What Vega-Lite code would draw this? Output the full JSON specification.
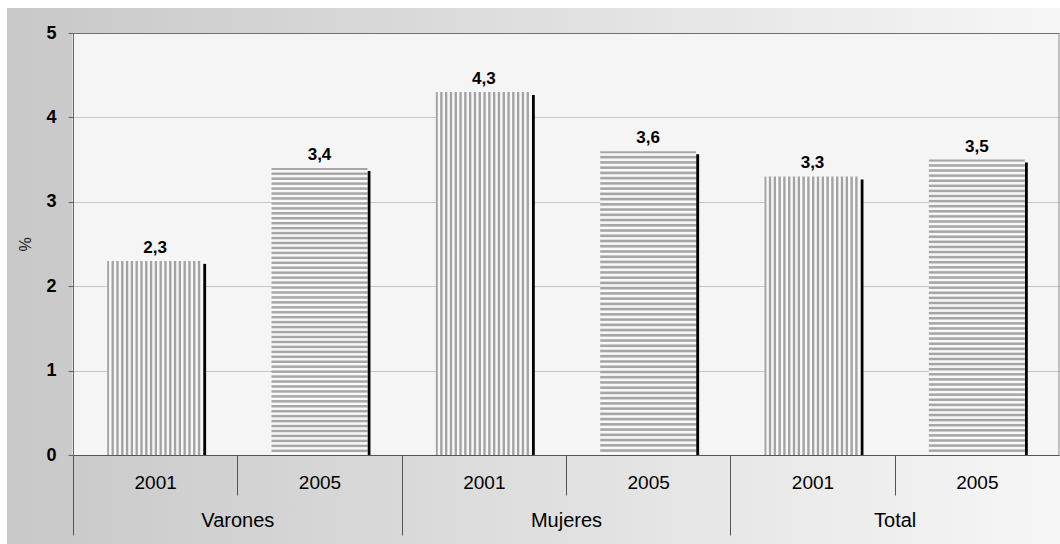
{
  "$schema": "https://vega.github.io/schema/vega-lite/v6.json",
  "width": 1053,
  "height": 536,
  "autosize": "none",
  "padding": {"left": 7, "top": 8, "right": 0, "bottom": 0},
  "background": "#ffffff",
  "view": {
    "stroke": null,
    "fill": {"gradient": "linear", "x1": 0, "y1": 0, "x2": 1, "y2": 0, "stops": [{"offset": 0, "color": "#c8c8c8"}, {"offset": 1, "color": "#f6f6f6"}]}
  },
  "config": {
    "locale": {"number": {"decimal": ",", "thousands": ".", "grouping": [3], "currency": ["", " €"]}}
  },
  "data": {
    "values": [
      {"grupo": "Varones", "anio": "2001", "key": "Varones 2001", "valor": 2.3},
      {"grupo": "Varones", "anio": "2005", "key": "Varones 2005", "valor": 3.4},
      {"grupo": "Mujeres", "anio": "2001", "key": "Mujeres 2001", "valor": 4.3},
      {"grupo": "Mujeres", "anio": "2005", "key": "Mujeres 2005", "valor": 3.6},
      {"grupo": "Total", "anio": "2001", "key": "Total 2001", "valor": 3.3},
      {"grupo": "Total", "anio": "2005", "key": "Total 2005", "valor": 3.5}
    ]
  },
  "encoding": {
    "x": {
      "field": "key", "type": "nominal", "sort": null,
      "scale": {"domain": ["Varones 2001", "Varones 2005", "Mujeres 2001", "Mujeres 2005", "Total 2001", "Total 2005"], "range": [66, 1052], "paddingInner": 0, "paddingOuter": 0},
      "axis": null
    },
    "y": {
      "field": "valor", "type": "quantitative",
      "scale": {"domain": [0, 5], "range": [447, 25], "nice": false, "zero": true},
      "axis": {
        "orient": "left", "offset": -66, "values": [0, 1, 2, 3, 4, 5],
        "domain": true, "domainColor": "#666666", "domainWidth": 1,
        "ticks": true, "tickSize": 5, "tickColor": "#666666", "tickWidth": 1,
        "labelFont": "Liberation Sans", "labelFontSize": 18, "labelFontWeight": "bold", "labelColor": "#000000", "labelPadding": 12,
        "grid": true, "gridWidth": 1,
        "gridColor": {"condition": {"test": "datum.value === 5", "value": "#707070"}, "value": "#c4c4c4"},
        "title": "%", "titleFont": "Liberation Sans", "titleFontSize": 16, "titleFontWeight": "normal", "titleColor": "#222222",
        "titleX": -48, "titleBaseline": "middle",
        "zindex": 0
      }
    }
  },
  "resolve": {"axis": {"x": "independent"}},
  "layer": [
    {
      "mark": {"type": "text", "font": "Liberation Sans", "fontSize": 17, "fontWeight": "bold", "baseline": "alphabetic", "dy": -8, "color": "#000000"},
      "encoding": {
        "x": {
          "field": "key", "type": "nominal", "sort": null,
          "scale": {"domain": ["Varones 2001", "Varones 2005", "Mujeres 2001", "Mujeres 2005", "Total 2001", "Total 2005"], "range": [66, 1052], "paddingInner": 0, "paddingOuter": 0},
          "axis": {"orient": "top", "offset": 0, "domain": false, "ticks": false, "labels": false, "title": null, "grid": true, "gridColor": "#f5f5f5", "gridWidth": 166, "gridOpacity": 1, "bandPosition": 0.5, "zindex": 0}
        },
        "text": {"field": "valor", "type": "quantitative", "format": ".1f"}
      }
    },
    {
      "mark": {"type": "rule", "color": "#000000", "strokeWidth": 3, "yOffset": 3},
      "encoding": {
        "x": {
          "field": "key", "type": "nominal", "sort": null, "bandPosition": 0.801,
          "scale": {"domain": ["Varones 2001", "Varones 2005", "Mujeres 2001", "Mujeres 2005", "Total 2001", "Total 2005"], "range": [66, 1052], "paddingInner": 0, "paddingOuter": 0},
          "axis": null
        },
        "y2": {"datum": 0}
      }
    },
    {
      "transform": [{"filter": "datum.anio === '2001'"}],
      "mark": {
        "type": "bar", "width": {"band": 0.584}, "stroke": null,
        "fill": {"gradient": "linear", "x1": 0, "y1": 0, "x2": 1, "y2": 0, "stops": [
          {"offset": 0, "color": "#a3a3a3"}, {"offset": 0.015, "color": "#a3a3a3"}, {"offset": 0.025, "color": "#f8f8f8"}, {"offset": 0.04, "color": "#f8f8f8"},
          {"offset": 0.05, "color": "#a3a3a3"}, {"offset": 0.065, "color": "#a3a3a3"}, {"offset": 0.075, "color": "#f8f8f8"}, {"offset": 0.09, "color": "#f8f8f8"},
          {"offset": 0.1, "color": "#a3a3a3"}, {"offset": 0.115, "color": "#a3a3a3"}, {"offset": 0.125, "color": "#f8f8f8"}, {"offset": 0.14, "color": "#f8f8f8"},
          {"offset": 0.15, "color": "#a3a3a3"}, {"offset": 0.165, "color": "#a3a3a3"}, {"offset": 0.175, "color": "#f8f8f8"}, {"offset": 0.19, "color": "#f8f8f8"},
          {"offset": 0.2, "color": "#a3a3a3"}, {"offset": 0.215, "color": "#a3a3a3"}, {"offset": 0.225, "color": "#f8f8f8"}, {"offset": 0.24, "color": "#f8f8f8"},
          {"offset": 0.25, "color": "#a3a3a3"}, {"offset": 0.265, "color": "#a3a3a3"}, {"offset": 0.275, "color": "#f8f8f8"}, {"offset": 0.29, "color": "#f8f8f8"},
          {"offset": 0.3, "color": "#a3a3a3"}, {"offset": 0.315, "color": "#a3a3a3"}, {"offset": 0.325, "color": "#f8f8f8"}, {"offset": 0.34, "color": "#f8f8f8"},
          {"offset": 0.35, "color": "#a3a3a3"}, {"offset": 0.365, "color": "#a3a3a3"}, {"offset": 0.375, "color": "#f8f8f8"}, {"offset": 0.39, "color": "#f8f8f8"},
          {"offset": 0.4, "color": "#a3a3a3"}, {"offset": 0.415, "color": "#a3a3a3"}, {"offset": 0.425, "color": "#f8f8f8"}, {"offset": 0.44, "color": "#f8f8f8"},
          {"offset": 0.45, "color": "#a3a3a3"}, {"offset": 0.465, "color": "#a3a3a3"}, {"offset": 0.475, "color": "#f8f8f8"}, {"offset": 0.49, "color": "#f8f8f8"},
          {"offset": 0.5, "color": "#a3a3a3"}, {"offset": 0.515, "color": "#a3a3a3"}, {"offset": 0.525, "color": "#f8f8f8"}, {"offset": 0.54, "color": "#f8f8f8"},
          {"offset": 0.55, "color": "#a3a3a3"}, {"offset": 0.565, "color": "#a3a3a3"}, {"offset": 0.575, "color": "#f8f8f8"}, {"offset": 0.59, "color": "#f8f8f8"},
          {"offset": 0.6, "color": "#a3a3a3"}, {"offset": 0.615, "color": "#a3a3a3"}, {"offset": 0.625, "color": "#f8f8f8"}, {"offset": 0.64, "color": "#f8f8f8"},
          {"offset": 0.65, "color": "#a3a3a3"}, {"offset": 0.665, "color": "#a3a3a3"}, {"offset": 0.675, "color": "#f8f8f8"}, {"offset": 0.69, "color": "#f8f8f8"},
          {"offset": 0.7, "color": "#a3a3a3"}, {"offset": 0.715, "color": "#a3a3a3"}, {"offset": 0.725, "color": "#f8f8f8"}, {"offset": 0.74, "color": "#f8f8f8"},
          {"offset": 0.75, "color": "#a3a3a3"}, {"offset": 0.765, "color": "#a3a3a3"}, {"offset": 0.775, "color": "#f8f8f8"}, {"offset": 0.79, "color": "#f8f8f8"},
          {"offset": 0.8, "color": "#a3a3a3"}, {"offset": 0.815, "color": "#a3a3a3"}, {"offset": 0.825, "color": "#f8f8f8"}, {"offset": 0.84, "color": "#f8f8f8"},
          {"offset": 0.85, "color": "#a3a3a3"}, {"offset": 0.865, "color": "#a3a3a3"}, {"offset": 0.875, "color": "#f8f8f8"}, {"offset": 0.89, "color": "#f8f8f8"},
          {"offset": 0.9, "color": "#a3a3a3"}, {"offset": 0.915, "color": "#a3a3a3"}, {"offset": 0.925, "color": "#f8f8f8"}, {"offset": 0.94, "color": "#f8f8f8"},
          {"offset": 0.95, "color": "#a3a3a3"}, {"offset": 0.965, "color": "#a3a3a3"}, {"offset": 0.975, "color": "#f8f8f8"}, {"offset": 1, "color": "#f8f8f8"}
        ]}
      },
      "encoding": {
        "x": {
          "field": "key", "type": "nominal", "sort": null,
          "scale": {"domain": ["Varones 2001", "Varones 2005", "Mujeres 2001", "Mujeres 2005", "Total 2001", "Total 2005"], "range": [66, 1052], "paddingInner": 0, "paddingOuter": 0},
          "axis": {
            "orient": "bottom", "offset": -89, "title": null, "grid": false,
            "domain": true, "domainColor": "#555555", "domainWidth": 1,
            "ticks": true, "tickSize": 40, "tickColor": "#555555", "tickWidth": 1,
            "tickOffset": -82.1667, "labelOffset": 82.1667,
            "labelExpr": "split(datum.label, ' ')[1]", "labelAngle": 0, "labelOverlap": false,
            "labelFont": "Liberation Sans", "labelFontSize": 19, "labelColor": "#000000",
            "labelPadding": -13, "labelBaseline": "middle", "zindex": 0
          }
        }
      }
    },
    {
      "transform": [{"filter": "datum.anio === '2005'"}],
      "mark": {
        "type": "bar", "width": {"band": 0.584}, "stroke": null,
        "fill": {"gradient": "linear", "x1": 0, "y1": 0, "x2": 0, "y2": 1, "stops": [
          {"offset": 0, "color": "#a6a6a6"}, {"offset": 0.00517, "color": "#a6a6a6"}, {"offset": 0.00862, "color": "#f8f8f8"}, {"offset": 0.01379, "color": "#f8f8f8"},
          {"offset": 0.01724, "color": "#a6a6a6"}, {"offset": 0.02241, "color": "#a6a6a6"}, {"offset": 0.02586, "color": "#f8f8f8"}, {"offset": 0.03103, "color": "#f8f8f8"},
          {"offset": 0.03448, "color": "#a6a6a6"}, {"offset": 0.03965, "color": "#a6a6a6"}, {"offset": 0.0431, "color": "#f8f8f8"}, {"offset": 0.04827, "color": "#f8f8f8"},
          {"offset": 0.05172, "color": "#a6a6a6"}, {"offset": 0.05689, "color": "#a6a6a6"}, {"offset": 0.06034, "color": "#f8f8f8"}, {"offset": 0.06551, "color": "#f8f8f8"},
          {"offset": 0.06897, "color": "#a6a6a6"}, {"offset": 0.07414, "color": "#a6a6a6"}, {"offset": 0.07759, "color": "#f8f8f8"}, {"offset": 0.08276, "color": "#f8f8f8"},
          {"offset": 0.08621, "color": "#a6a6a6"}, {"offset": 0.09138, "color": "#a6a6a6"}, {"offset": 0.09483, "color": "#f8f8f8"}, {"offset": 0.1, "color": "#f8f8f8"},
          {"offset": 0.10345, "color": "#a6a6a6"}, {"offset": 0.10862, "color": "#a6a6a6"}, {"offset": 0.11207, "color": "#f8f8f8"}, {"offset": 0.11724, "color": "#f8f8f8"},
          {"offset": 0.12069, "color": "#a6a6a6"}, {"offset": 0.12586, "color": "#a6a6a6"}, {"offset": 0.12931, "color": "#f8f8f8"}, {"offset": 0.13448, "color": "#f8f8f8"},
          {"offset": 0.13793, "color": "#a6a6a6"}, {"offset": 0.1431, "color": "#a6a6a6"}, {"offset": 0.14655, "color": "#f8f8f8"}, {"offset": 0.15172, "color": "#f8f8f8"},
          {"offset": 0.15517, "color": "#a6a6a6"}, {"offset": 0.16034, "color": "#a6a6a6"}, {"offset": 0.16379, "color": "#f8f8f8"}, {"offset": 0.16896, "color": "#f8f8f8"},
          {"offset": 0.17241, "color": "#a6a6a6"}, {"offset": 0.17758, "color": "#a6a6a6"}, {"offset": 0.18103, "color": "#f8f8f8"}, {"offset": 0.1862, "color": "#f8f8f8"},
          {"offset": 0.18966, "color": "#a6a6a6"}, {"offset": 0.19483, "color": "#a6a6a6"}, {"offset": 0.19828, "color": "#f8f8f8"}, {"offset": 0.20345, "color": "#f8f8f8"},
          {"offset": 0.2069, "color": "#a6a6a6"}, {"offset": 0.21207, "color": "#a6a6a6"}, {"offset": 0.21552, "color": "#f8f8f8"}, {"offset": 0.22069, "color": "#f8f8f8"},
          {"offset": 0.22414, "color": "#a6a6a6"}, {"offset": 0.22931, "color": "#a6a6a6"}, {"offset": 0.23276, "color": "#f8f8f8"}, {"offset": 0.23793, "color": "#f8f8f8"},
          {"offset": 0.24138, "color": "#a6a6a6"}, {"offset": 0.24655, "color": "#a6a6a6"}, {"offset": 0.25, "color": "#f8f8f8"}, {"offset": 0.25517, "color": "#f8f8f8"},
          {"offset": 0.25862, "color": "#a6a6a6"}, {"offset": 0.26379, "color": "#a6a6a6"}, {"offset": 0.26724, "color": "#f8f8f8"}, {"offset": 0.27241, "color": "#f8f8f8"},
          {"offset": 0.27586, "color": "#a6a6a6"}, {"offset": 0.28103, "color": "#a6a6a6"}, {"offset": 0.28448, "color": "#f8f8f8"}, {"offset": 0.28965, "color": "#f8f8f8"},
          {"offset": 0.2931, "color": "#a6a6a6"}, {"offset": 0.29827, "color": "#a6a6a6"}, {"offset": 0.30172, "color": "#f8f8f8"}, {"offset": 0.30689, "color": "#f8f8f8"},
          {"offset": 0.31034, "color": "#a6a6a6"}, {"offset": 0.31551, "color": "#a6a6a6"}, {"offset": 0.31896, "color": "#f8f8f8"}, {"offset": 0.32413, "color": "#f8f8f8"},
          {"offset": 0.32759, "color": "#a6a6a6"}, {"offset": 0.33276, "color": "#a6a6a6"}, {"offset": 0.33621, "color": "#f8f8f8"}, {"offset": 0.34138, "color": "#f8f8f8"},
          {"offset": 0.34483, "color": "#a6a6a6"}, {"offset": 0.35, "color": "#a6a6a6"}, {"offset": 0.35345, "color": "#f8f8f8"}, {"offset": 0.35862, "color": "#f8f8f8"},
          {"offset": 0.36207, "color": "#a6a6a6"}, {"offset": 0.36724, "color": "#a6a6a6"}, {"offset": 0.37069, "color": "#f8f8f8"}, {"offset": 0.37586, "color": "#f8f8f8"},
          {"offset": 0.37931, "color": "#a6a6a6"}, {"offset": 0.38448, "color": "#a6a6a6"}, {"offset": 0.38793, "color": "#f8f8f8"}, {"offset": 0.3931, "color": "#f8f8f8"},
          {"offset": 0.39655, "color": "#a6a6a6"}, {"offset": 0.40172, "color": "#a6a6a6"}, {"offset": 0.40517, "color": "#f8f8f8"}, {"offset": 0.41034, "color": "#f8f8f8"},
          {"offset": 0.41379, "color": "#a6a6a6"}, {"offset": 0.41896, "color": "#a6a6a6"}, {"offset": 0.42241, "color": "#f8f8f8"}, {"offset": 0.42758, "color": "#f8f8f8"},
          {"offset": 0.43103, "color": "#a6a6a6"}, {"offset": 0.4362, "color": "#a6a6a6"}, {"offset": 0.43965, "color": "#f8f8f8"}, {"offset": 0.44482, "color": "#f8f8f8"},
          {"offset": 0.44828, "color": "#a6a6a6"}, {"offset": 0.45345, "color": "#a6a6a6"}, {"offset": 0.4569, "color": "#f8f8f8"}, {"offset": 0.46207, "color": "#f8f8f8"},
          {"offset": 0.46552, "color": "#a6a6a6"}, {"offset": 0.47069, "color": "#a6a6a6"}, {"offset": 0.47414, "color": "#f8f8f8"}, {"offset": 0.47931, "color": "#f8f8f8"},
          {"offset": 0.48276, "color": "#a6a6a6"}, {"offset": 0.48793, "color": "#a6a6a6"}, {"offset": 0.49138, "color": "#f8f8f8"}, {"offset": 0.49655, "color": "#f8f8f8"},
          {"offset": 0.5, "color": "#a6a6a6"}, {"offset": 0.50517, "color": "#a6a6a6"}, {"offset": 0.50862, "color": "#f8f8f8"}, {"offset": 0.51379, "color": "#f8f8f8"},
          {"offset": 0.51724, "color": "#a6a6a6"}, {"offset": 0.52241, "color": "#a6a6a6"}, {"offset": 0.52586, "color": "#f8f8f8"}, {"offset": 0.53103, "color": "#f8f8f8"},
          {"offset": 0.53448, "color": "#a6a6a6"}, {"offset": 0.53965, "color": "#a6a6a6"}, {"offset": 0.5431, "color": "#f8f8f8"}, {"offset": 0.54827, "color": "#f8f8f8"},
          {"offset": 0.55172, "color": "#a6a6a6"}, {"offset": 0.55689, "color": "#a6a6a6"}, {"offset": 0.56034, "color": "#f8f8f8"}, {"offset": 0.56551, "color": "#f8f8f8"},
          {"offset": 0.56897, "color": "#a6a6a6"}, {"offset": 0.57414, "color": "#a6a6a6"}, {"offset": 0.57759, "color": "#f8f8f8"}, {"offset": 0.58276, "color": "#f8f8f8"},
          {"offset": 0.58621, "color": "#a6a6a6"}, {"offset": 0.59138, "color": "#a6a6a6"}, {"offset": 0.59483, "color": "#f8f8f8"}, {"offset": 0.6, "color": "#f8f8f8"},
          {"offset": 0.60345, "color": "#a6a6a6"}, {"offset": 0.60862, "color": "#a6a6a6"}, {"offset": 0.61207, "color": "#f8f8f8"}, {"offset": 0.61724, "color": "#f8f8f8"},
          {"offset": 0.62069, "color": "#a6a6a6"}, {"offset": 0.62586, "color": "#a6a6a6"}, {"offset": 0.62931, "color": "#f8f8f8"}, {"offset": 0.63448, "color": "#f8f8f8"},
          {"offset": 0.63793, "color": "#a6a6a6"}, {"offset": 0.6431, "color": "#a6a6a6"}, {"offset": 0.64655, "color": "#f8f8f8"}, {"offset": 0.65172, "color": "#f8f8f8"},
          {"offset": 0.65517, "color": "#a6a6a6"}, {"offset": 0.66034, "color": "#a6a6a6"}, {"offset": 0.66379, "color": "#f8f8f8"}, {"offset": 0.66896, "color": "#f8f8f8"},
          {"offset": 0.67241, "color": "#a6a6a6"}, {"offset": 0.67758, "color": "#a6a6a6"}, {"offset": 0.68103, "color": "#f8f8f8"}, {"offset": 0.6862, "color": "#f8f8f8"},
          {"offset": 0.68966, "color": "#a6a6a6"}, {"offset": 0.69483, "color": "#a6a6a6"}, {"offset": 0.69828, "color": "#f8f8f8"}, {"offset": 0.70345, "color": "#f8f8f8"},
          {"offset": 0.7069, "color": "#a6a6a6"}, {"offset": 0.71207, "color": "#a6a6a6"}, {"offset": 0.71552, "color": "#f8f8f8"}, {"offset": 0.72069, "color": "#f8f8f8"},
          {"offset": 0.72414, "color": "#a6a6a6"}, {"offset": 0.72931, "color": "#a6a6a6"}, {"offset": 0.73276, "color": "#f8f8f8"}, {"offset": 0.73793, "color": "#f8f8f8"},
          {"offset": 0.74138, "color": "#a6a6a6"}, {"offset": 0.74655, "color": "#a6a6a6"}, {"offset": 0.75, "color": "#f8f8f8"}, {"offset": 0.75517, "color": "#f8f8f8"},
          {"offset": 0.75862, "color": "#a6a6a6"}, {"offset": 0.76379, "color": "#a6a6a6"}, {"offset": 0.76724, "color": "#f8f8f8"}, {"offset": 0.77241, "color": "#f8f8f8"},
          {"offset": 0.77586, "color": "#a6a6a6"}, {"offset": 0.78103, "color": "#a6a6a6"}, {"offset": 0.78448, "color": "#f8f8f8"}, {"offset": 0.78965, "color": "#f8f8f8"},
          {"offset": 0.7931, "color": "#a6a6a6"}, {"offset": 0.79827, "color": "#a6a6a6"}, {"offset": 0.80172, "color": "#f8f8f8"}, {"offset": 0.80689, "color": "#f8f8f8"},
          {"offset": 0.81034, "color": "#a6a6a6"}, {"offset": 0.81551, "color": "#a6a6a6"}, {"offset": 0.81896, "color": "#f8f8f8"}, {"offset": 0.82413, "color": "#f8f8f8"},
          {"offset": 0.82759, "color": "#a6a6a6"}, {"offset": 0.83276, "color": "#a6a6a6"}, {"offset": 0.83621, "color": "#f8f8f8"}, {"offset": 0.84138, "color": "#f8f8f8"},
          {"offset": 0.84483, "color": "#a6a6a6"}, {"offset": 0.85, "color": "#a6a6a6"}, {"offset": 0.85345, "color": "#f8f8f8"}, {"offset": 0.85862, "color": "#f8f8f8"},
          {"offset": 0.86207, "color": "#a6a6a6"}, {"offset": 0.86724, "color": "#a6a6a6"}, {"offset": 0.87069, "color": "#f8f8f8"}, {"offset": 0.87586, "color": "#f8f8f8"},
          {"offset": 0.87931, "color": "#a6a6a6"}, {"offset": 0.88448, "color": "#a6a6a6"}, {"offset": 0.88793, "color": "#f8f8f8"}, {"offset": 0.8931, "color": "#f8f8f8"},
          {"offset": 0.89655, "color": "#a6a6a6"}, {"offset": 0.90172, "color": "#a6a6a6"}, {"offset": 0.90517, "color": "#f8f8f8"}, {"offset": 0.91034, "color": "#f8f8f8"},
          {"offset": 0.91379, "color": "#a6a6a6"}, {"offset": 0.91896, "color": "#a6a6a6"}, {"offset": 0.92241, "color": "#f8f8f8"}, {"offset": 0.92758, "color": "#f8f8f8"},
          {"offset": 0.93103, "color": "#a6a6a6"}, {"offset": 0.9362, "color": "#a6a6a6"}, {"offset": 0.93965, "color": "#f8f8f8"}, {"offset": 0.94482, "color": "#f8f8f8"},
          {"offset": 0.94828, "color": "#a6a6a6"}, {"offset": 0.95345, "color": "#a6a6a6"}, {"offset": 0.9569, "color": "#f8f8f8"}, {"offset": 0.96207, "color": "#f8f8f8"},
          {"offset": 0.96552, "color": "#a6a6a6"}, {"offset": 0.97069, "color": "#a6a6a6"}, {"offset": 0.97414, "color": "#f8f8f8"}, {"offset": 0.97931, "color": "#f8f8f8"},
          {"offset": 0.98276, "color": "#a6a6a6"}, {"offset": 0.98793, "color": "#a6a6a6"}, {"offset": 0.99138, "color": "#f8f8f8"}, {"offset": 1, "color": "#f8f8f8"}
        ]}
      },
      "encoding": {
        "x": {
          "field": "key", "type": "nominal", "sort": null,
          "scale": {"domain": ["Varones 2001", "Varones 2005", "Mujeres 2001", "Mujeres 2005", "Total 2001", "Total 2005"], "range": [66, 1052], "paddingInner": 0, "paddingOuter": 0},
          "axis": {
            "orient": "bottom", "offset": -89, "title": null, "grid": false,
            "values": ["Varones 2001", "Mujeres 2001", "Total 2001"],
            "domain": false,
            "ticks": true, "tickSize": 80, "tickColor": "#555555", "tickWidth": 1,
            "tickOffset": -82.1667, "labelOffset": 164.3333,
            "labelExpr": "split(datum.label, ' ')[0]", "labelAngle": 0, "labelOverlap": false,
            "labelFont": "Liberation Sans", "labelFontSize": 20, "labelColor": "#000000",
            "labelPadding": -15, "labelBaseline": "middle", "zindex": 0
          }
        }
      }
    },
    {
      "transform": [{"filter": "datum.key === 'Total 2005'"}],
      "mark": {"type": "rule", "color": "#8c8c8c", "strokeWidth": 1},
      "encoding": {
        "x": {
          "field": "key", "type": "nominal", "sort": null, "bandPosition": 1,
          "scale": {"domain": ["Varones 2001", "Varones 2005", "Mujeres 2001", "Mujeres 2005", "Total 2001", "Total 2005"], "range": [66, 1052], "paddingInner": 0, "paddingOuter": 0},
          "axis": null
        },
        "y": {"datum": 5, "type": "quantitative"},
        "y2": {"datum": 0}
      }
    }
  ]
}
